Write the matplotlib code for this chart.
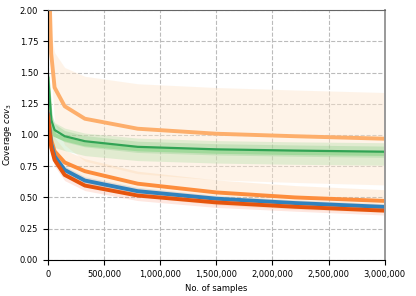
import matplotlib
matplotlib.use("Agg")
import matplotlib.pyplot as plt
import numpy as np

samples = [0, 30000, 60000, 150000, 330000, 800000, 1500000, 2200000, 3000000]

# mean / spread per method
lorange_mean = [2.6, 1.65, 1.38, 1.23, 1.13, 1.05, 1.01, 0.99, 0.97]
lorange_sd   = [0.10, 0.15, 0.28, 0.31, 0.34, 0.36, 0.37, 0.37, 0.37]
dgreen_mean  = [1.50, 1.12, 1.04, 0.99, 0.95, 0.905, 0.885, 0.875, 0.866]
dgreen_sd    = [0.05, 0.05, 0.05, 0.045, 0.045, 0.045, 0.045, 0.045, 0.045]
lgreen_mean  = [1.45, 1.08, 1.00, 0.965, 0.925, 0.885, 0.865, 0.855, 0.848]
lgreen_sd    = [0.10, 0.10, 0.10, 0.09, 0.09, 0.09, 0.09, 0.09, 0.09]
morange_mean = [1.18, 0.96, 0.87, 0.78, 0.71, 0.61, 0.54, 0.50, 0.472]
morange_sd   = [0.12, 0.12, 0.11, 0.10, 0.10, 0.10, 0.10, 0.095, 0.09]
blue_mean    = [1.17, 0.93, 0.83, 0.72, 0.635, 0.55, 0.49, 0.455, 0.424]
blue_sd      = [0.03, 0.03, 0.03, 0.03, 0.03, 0.03, 0.025, 0.025, 0.025]
dorange_mean = [1.16, 0.90, 0.80, 0.68, 0.595, 0.515, 0.46, 0.425, 0.394]
dorange_sd   = [0.05, 0.05, 0.05, 0.045, 0.04, 0.04, 0.04, 0.035, 0.035]

plt.rcParams['font.size'] = 6

fig = plt.figure(figsize=(4.16, 2.96), dpi=100)
ax = fig.add_axes([0.115, 0.122, 0.81, 0.844])

x = np.array(samples)

def band(mean, sd, color, alpha):
    m = np.array(mean)
    s = np.array(sd)
    ax.fill_between(x, m - s, m + s, color=color, alpha=alpha, lw=0)

band(lorange_mean, lorange_sd, '#fee6ce', 0.45)
band(morange_mean, morange_sd, '#fdd0a2', 0.3)
band(lgreen_mean, lgreen_sd, '#a1d99b', 0.3)
band(dgreen_mean, dgreen_sd, '#74c476', 0.25)
band(blue_mean, blue_sd, '#bdbdbd', 0.4)
band(dorange_mean, dorange_sd, '#fc9272', 0.22)

ax.plot(x, lorange_mean, color='#fdae6b', lw=2.8)
ax.plot(x, lgreen_mean, color='#a1d99b', lw=2.8)
ax.plot(x, dgreen_mean, color='#31a354', lw=1.6)
ax.plot(x, morange_mean, color='#fd8d3c', lw=2.8)
ax.plot(x, blue_mean, color='#3182bd', lw=2.8)
ax.plot(x, dorange_mean, color='#e6550d', lw=2.8)

ax.set_xlim(0, 3000000)
ax.set_ylim(0, 2)
ax.set_xticks(np.arange(0, 3000001, 500000))
ax.set_xticklabels(['{:,}'.format(v) for v in range(0, 3000001, 500000)])
ax.set_yticks(np.arange(0, 2.01, 0.25))
ax.grid(True, ls='--', color='#bbbbbb', lw=0.8)
ax.set_axisbelow(True)
ax.spines['top'].set_color('#666666')
ax.spines['right'].set_color('#999999')
ax.spines['right'].set_linewidth(1.4)
ax.set_xlabel('No. of samples')
ax.set_ylabel('Coverage $cov_3$')

fig.savefig('out.png', dpi=100)
